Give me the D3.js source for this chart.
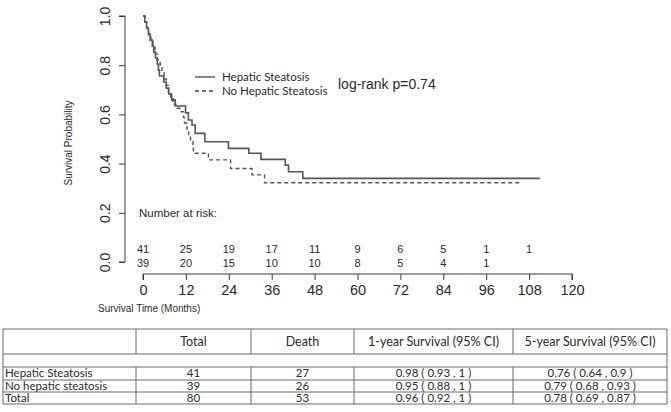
<!DOCTYPE html>
<html>
<head>
<meta charset="utf-8">
<script src="https://cdn.jsdelivr.net/npm/d3@7"></script>
<style>
  body { margin: 0; background: #fff; }
  svg text { fill: #2a2a2a; }
</style>
</head>
<body>
<div id="chart"></div>
<script>
// Kaplan-Meier steps: [months, survival]
const steatosis = [
  [0, 1.0], [0.5, 0.976], [1.0, 0.951], [1.5, 0.927], [2.0, 0.902], [2.6, 0.878],
  [3.0, 0.854], [3.5, 0.829], [4.0, 0.805], [4.3, 0.780], [4.6, 0.756], [5.8, 0.732],
  [6.5, 0.707], [7.2, 0.683], [8.0, 0.659], [9.0, 0.634], [11.9, 0.606], [12.7, 0.577],
  [13.7, 0.557], [14.6, 0.523], [17.3, 0.489], [23.9, 0.462], [29.6, 0.442],
  [33.0, 0.417], [39.8, 0.394], [40.7, 0.367], [44.7, 0.340], [111, 0.340]
];
const noSteatosis = [
  [0, 1.0], [0.6, 0.974], [1.1, 0.949], [1.6, 0.923], [2.2, 0.897], [2.8, 0.872],
  [3.4, 0.846], [4.0, 0.821], [4.8, 0.795], [5.3, 0.769], [5.9, 0.744], [6.5, 0.718],
  [7.1, 0.692], [7.7, 0.667], [8.4, 0.641], [9.2, 0.625], [10.3, 0.611], [11.3, 0.588],
  [11.6, 0.565], [12.3, 0.540], [12.8, 0.515], [13.3, 0.496], [14.0, 0.468],
  [14.1, 0.442], [18.3, 0.415], [24.5, 0.380], [30.5, 0.354], [34.0, 0.322], [105.5, 0.322]
];

const xTicks = [0, 12, 24, 36, 48, 60, 72, 84, 96, 108, 120];
const yTicks = [0, 0.2, 0.4, 0.6, 0.8, 1.0];
const riskSteatosis = [41, 25, 19, 17, 11, 9, 6, 5, 1, 1];
const riskNoSteatosis = [39, 20, 15, 10, 10, 8, 5, 4, 1];

const seriesNames = ["Hepatic Steatosis", "No Hepatic Steatosis"];

// summary table
const tableHeader = ["", "Total", "Death", "1-year Survival (95% CI)", "5-year Survival (95% CI)"];
const groupNames = ["Hepatic Steatosis", "No hepatic steatosis", "Total"];
const totals = [41, 39, 80];
const deaths = [27, 26, 53];
const oneYear = ["0.98 ( 0.93 , 1 )", "0.95 ( 0.88 , 1 )", "0.96 ( 0.92 , 1 )"];
const fiveYear = ["0.76 ( 0.64 , 0.9 )", "0.79 ( 0.68 , 0.93 )", "0.78 ( 0.69 , 0.87 )"];

const width = 671, height = 412;
const svg = d3.select("#chart").append("svg")
  .attr("width", width)
  .attr("height", height);

const x = d3.scaleLinear().domain([0, 120]).range([143, 572]);
const y = d3.scaleLinear().domain([0, 1]).range([262, 16]);
const ink = "#3a3a3a";
const axisFont = "Liberation Sans, Arial, sans-serif";

// y axis (R style: labels parallel to the axis)
const yAxis = svg.append("g").attr("transform", "translate(125,0)")
  .call(d3.axisLeft(y).tickValues(yTicks).tickFormat(d3.format(".1f")).tickSize(6).tickPadding(0));
yAxis.select(".domain").attr("stroke", ink).attr("d", `M-6,${y(0)}H0V${y(1)}H-6`);
yAxis.selectAll(".tick line").attr("stroke", ink);
yAxis.selectAll(".tick text")
  .attr("font-family", axisFont).attr("font-size", 14)
  .attr("text-anchor", "middle")
  .attr("x", 0).attr("dy", 0)
  .attr("transform", "translate(-15,0) rotate(-90)")
  .attr("fill", "#2a2a2a");

// x axis
const xAxis = svg.append("g").attr("transform", "translate(0,274)")
  .call(d3.axisBottom(x).tickValues(xTicks).tickSize(6).tickPadding(5));
xAxis.select(".domain").attr("stroke", ink).attr("d", `M${x(0)},6V0H${x(120)}V6`);
xAxis.selectAll(".tick line").attr("stroke", ink);
xAxis.selectAll(".tick text")
  .attr("font-family", axisFont).attr("font-size", 14.5).attr("fill", "#2a2a2a");

// axis titles
svg.append("text")
  .attr("transform", `translate(72,${y(0.5) + 4}) rotate(-90)`)
  .attr("text-anchor", "middle")
  .attr("font-family", axisFont).attr("font-size", 10)
  .text("Survival Probability");

svg.append("text")
  .attr("x", 98).attr("y", 312)
  .attr("font-family", axisFont).attr("font-size", 10)
  .text("Survival Time (Months)");

// survival curves
const line = d3.line()
  .x(d => x(d[0]))
  .y(d => y(d[1]))
  .curve(d3.curveStepAfter);

svg.append("path")
  .datum(steatosis)
  .attr("d", line)
  .attr("fill", "none")
  .attr("stroke", "#555")
  .attr("stroke-width", 1.6);

svg.append("path")
  .datum(noSteatosis)
  .attr("d", line)
  .attr("fill", "none")
  .attr("stroke", "#555")
  .attr("stroke-width", 1.4)
  .attr("stroke-dasharray", "4,3");

// legend
const legend = svg.append("g").attr("transform", "translate(195,77)");
seriesNames.forEach((name, i) => {
  legend.append("line")
    .attr("x1", 0).attr("x2", 20)
    .attr("y1", i * 14).attr("y2", i * 14)
    .attr("stroke", "#444").attr("stroke-width", 1.3)
    .attr("stroke-dasharray", i === 0 ? null : "4,3");
  legend.append("text")
    .attr("x", 27).attr("y", i * 14 + 4)
    .attr("font-family", "Lato, sans-serif").attr("font-size", 11.5)
    .text(name);
});

svg.append("text")
  .attr("x", 338).attr("y", 89)
  .attr("font-family", axisFont).attr("font-size", 14)
  .text("log-rank p=0.74");

// number at risk
svg.append("text")
  .attr("x", 139).attr("y", 217)
  .attr("font-family", axisFont).attr("font-size", 11.5)
  .text("Number at risk:");

[riskSteatosis, riskNoSteatosis].forEach((row, r) => {
  svg.append("g").selectAll("text")
    .data(row)
    .enter().append("text")
    .attr("x", (d, i) => x(xTicks[i]))
    .attr("y", 253 + r * 14)
    .attr("text-anchor", "middle")
    .attr("font-family", axisFont).attr("font-size", 11)
    .text(d => d);
});

// summary table
const colEdges = [3, 136, 251, 354, 513, 667];
const rowEdges = [329, 354, 367, 380, 392, 404];
const tFont = "Lato, sans-serif";
const tbl = svg.append("g").attr("stroke", "#6a6a6a").attr("stroke-width", 1);

// horizontal rules
tbl.selectAll("line.h")
  .data(rowEdges)
  .enter().append("line")
  .attr("x1", colEdges[0]).attr("x2", colEdges[colEdges.length - 1])
  .attr("y1", d => d).attr("y2", d => d);

// vertical rules: outer edges run full height, inner edges skip the blank merged row
colEdges.forEach((cx, i) => {
  const outer = i === 0 || i === colEdges.length - 1;
  const segs = outer ? [[rowEdges[0], rowEdges[5]]] : [[rowEdges[0], rowEdges[1]], [rowEdges[2], rowEdges[5]]];
  segs.forEach(s => {
    tbl.append("line").attr("x1", cx).attr("x2", cx).attr("y1", s[0]).attr("y2", s[1]);
  });
});

// header
tableHeader.forEach((h, i) => {
  svg.append("text")
    .attr("x", (colEdges[i] + colEdges[i + 1]) / 2)
    .attr("y", 346)
    .attr("text-anchor", "middle")
    .attr("font-family", tFont).attr("font-size", 12.5)
    .text(h);
});

// body rows (rows are only ~12px tall, as in the source table)
groupNames.forEach((g, r) => {
  const base = rowEdges[r + 2] + 10;
  const cells = [g, totals[r], deaths[r], oneYear[r], fiveYear[r]];
  cells.forEach((c, i) => {
    svg.append("text")
      .attr("x", i === 0 ? colEdges[0] + 2 : (colEdges[i] + colEdges[i + 1]) / 2)
      .attr("y", base)
      .attr("text-anchor", i === 0 ? "start" : "middle")
      .attr("font-family", tFont).attr("font-size", 11.5)
      .text(c);
  });
});
</script>
</body>
</html>
